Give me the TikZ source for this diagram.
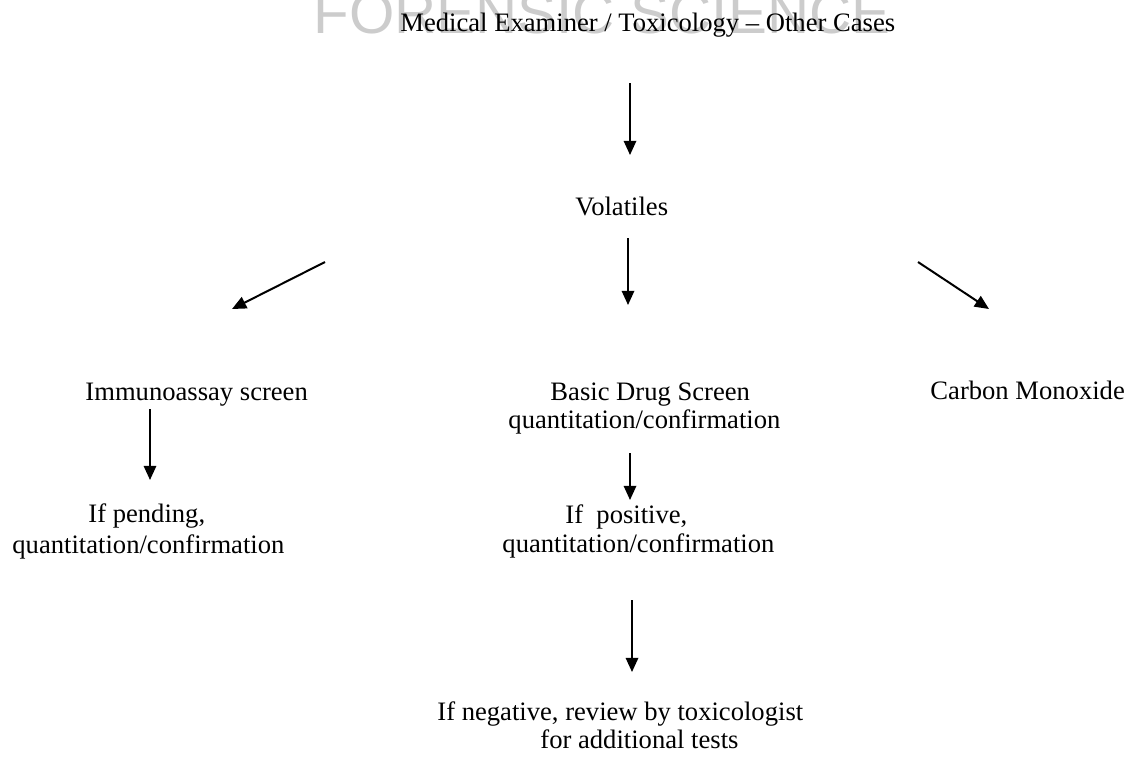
\documentclass[tikz,border=0pt]{standalone}
\usepackage{fontspec}
\setmainfont{Liberation Serif}
\newfontfamily\markfont{Liberation Sans}
\usetikzlibrary{arrows.meta}
\tikzset{
  txt/.style={inner sep=0pt,anchor=base west,font=\fontsize{12}{14}\selectfont},
  flow/.style={-{Triangle[width=5.6pt,length=6.4pt]},line width=0.9pt}
}
\begin{document}
\begin{tikzpicture}[x=0.451pt,y=-0.451pt]
  \useasboundingbox (0,0) rectangle (1127,768);
  \node[txt,text=black!20,font=\markfont\fontsize{26.3}{30}\selectfont] (mark) at (313,33) {FORENSIC SCIENCE};
  \draw
    (400,31) node[txt] (cases){Medical Examiner / Toxicology -- Other Cases}
    (575,215) node[txt] (volatiles){Volatiles}
    (85,400) node[txt] (immuno){Immunoassay screen}
    (550,400) node[txt] (basic){Basic Drug Screen}
    (508,428) node[txt] (basicq){quantitation/confirmation}
    (930,399) node[txt] (carbon){Carbon Monoxide}
    (88,522) node[txt] (pending){If pending,}
    (12,553) node[txt] (pendingq){quantitation/confirmation}
    (565,523) node[txt] (positive){If\ \ positive,}
    (502,552) node[txt] (positiveq){quantitation/confirmation}
    (437,720) node[txt] (negative){If negative, review by toxicologist}
    (540,748) node[txt] (additional){for additional tests};
  % arrow ends
  \coordinate (a1s) at (630,83);  \coordinate (a1e) at (630,155);
  \coordinate (a2s) at (628,238); \coordinate (a2e) at (628,305);
  \coordinate (a3s) at (325,262); \coordinate (a3e) at (232,309);
  \coordinate (a4s) at (918,262); \coordinate (a4e) at (989,309);
  \coordinate (a5s) at (150,409); \coordinate (a5e) at (150,480);
  \coordinate (a6s) at (630,453); \coordinate (a6e) at (630,500);
  \coordinate (a7s) at (632,600); \coordinate (a7e) at (632,672);
  \begin{scope}[flow]
    \draw (a1s) to (a1e);
    \draw (a2s) to (a2e);
    \draw (a3s) to (a3e);
    \draw (a4s) to (a4e);
    \draw (a5s) to (a5e);
    \draw (a6s) to (a6e);
    \draw (a7s) to (a7e);
  \end{scope}
\end{tikzpicture}
\end{document}
